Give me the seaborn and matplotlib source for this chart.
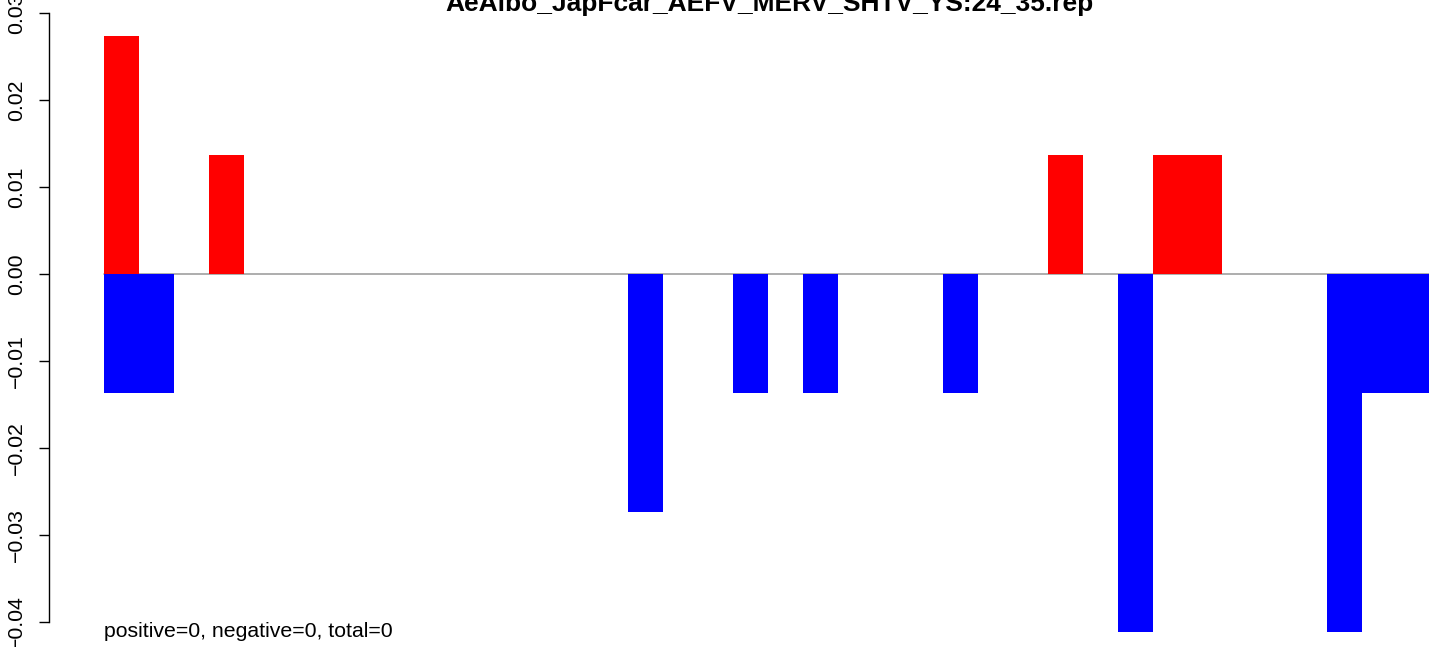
import numpy as np
import pandas as pd
import seaborn as sns
import matplotlib
matplotlib.use("Agg")
import matplotlib.pyplot as plt

# one unit = 1/73 (frequency of one read out of 73)
unit = 1 / 73
n_pos = 38
position = list(range(n_pos))
positive_units = [0] * n_pos
negative_units = [0] * n_pos
for i, v in {0: 2, 3: 1, 27: 1, 30: 1, 31: 1}.items():
    positive_units[i] = v
for i, v in {0: 1, 1: 1, 15: 2, 18: 1, 20: 1, 24: 1, 29: 3, 35: 3, 36: 1, 37: 1}.items():
    negative_units[i] = v

title = "AeAlbo_JapFcar_AEFV_MERV_SHTV_YS:24_35.rep"
footer = "positive=0, negative=0, total=0"
yticks = [-0.04, -0.03, -0.02, -0.01, 0.00, 0.01, 0.02, 0.03]

df = pd.DataFrame({
    "pos": position,
    "positive": [u * unit for u in positive_units],
    "negative": [-u * unit for u in negative_units],
})

sns.set_theme(style="white")
plt.rcParams["font.family"] = ["Liberation Sans", "DejaVu Sans"]
plt.rcParams["text.color"] = "black"
plt.rcParams["ytick.color"] = "black"

W, H = 1429, 647
fig = plt.figure(figsize=(W / 100, H / 100), dpi=100)
ax = fig.add_axes([49 / W, 0, 1 - 49 / W, 1])

sns.barplot(data=df, x="pos", y="positive", color="#ff0000", width=1,
            saturation=1, linewidth=0, ax=ax, zorder=3)
sns.barplot(data=df, x="pos", y="negative", color="#0000ff", width=1,
            saturation=1, linewidth=0, ax=ax, zorder=3)

bw = 34.95
left = -0.5 - (104 - 49) / bw
ax.set_xlim(left, left + (W - 49) / bw)
ax.set_ylim(-0.04 - 25 / 87 * 0.01, 0.03 + 13 / 87 * 0.01)

ax.plot([-0.5, n_pos], [0, 0], color="#a0a0a0", lw=1.2, zorder=2)

for s in ["top", "right", "bottom"]:
    ax.spines[s].set_visible(False)
ax.spines["left"].set_bounds(-0.04, 0.03)
ax.spines["left"].set_color("black")
ax.spines["left"].set_linewidth(1)
ax.set_xticks([])
ax.set_yticks(yticks)
ax.set_yticklabels([f"{t:.2f}".replace("-", "\u2212") for t in yticks],
                   rotation=90, va="center", fontsize=15.3, color="black")
ax.tick_params(axis="y", left=True, length=7.5, width=1, color="black",
               labelcolor="black", pad=9)
ax.set_xlabel("")
ax.set_ylabel("")

ax.text(-0.5, -0.0417, footer, fontsize=15.3, ha="left", va="baseline",
        color="black")
fig.text(769 / W, 1 - 11 / H, title, fontsize=19, fontweight="bold",
         ha="center", va="baseline", color="black")

fig.savefig("out.png", dpi=100)
